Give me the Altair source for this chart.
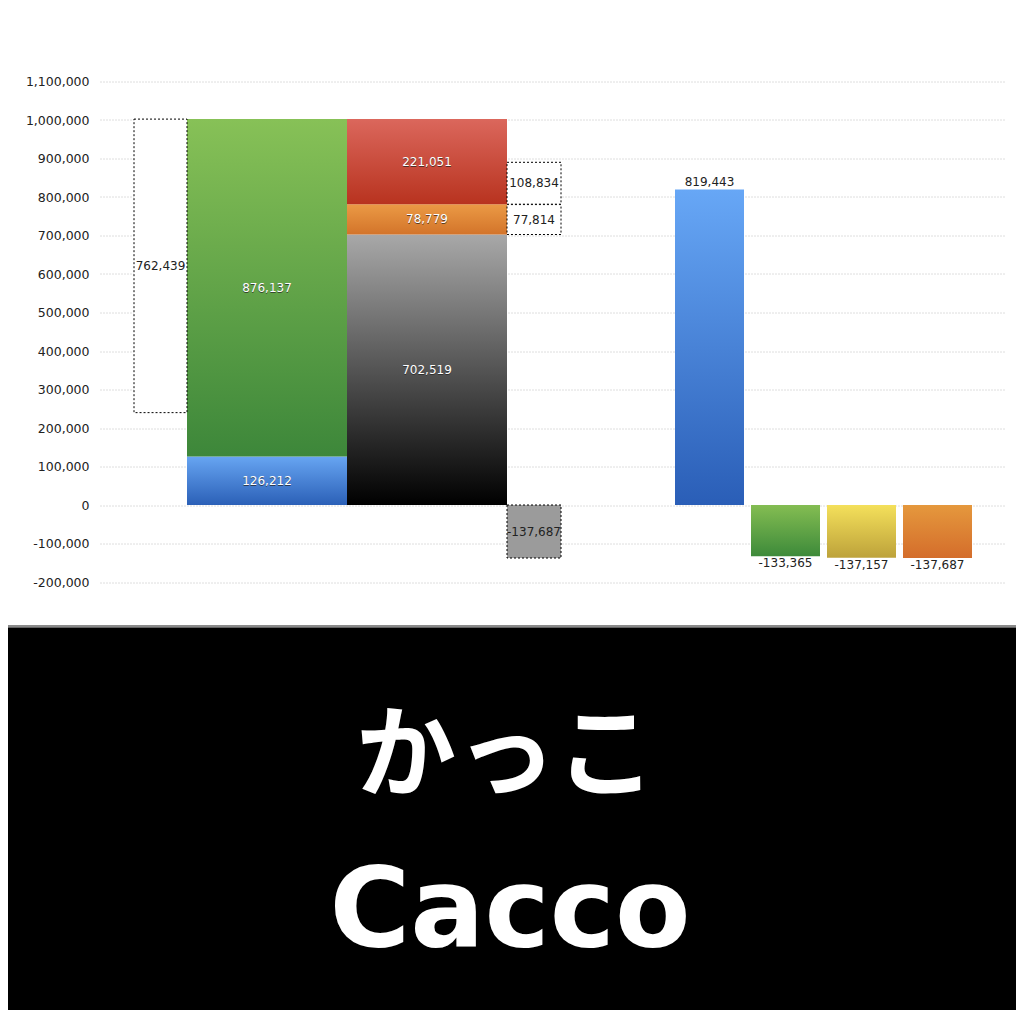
import altair as alt
import pandas as pd

# ---------------- data ----------------
blue_base = 126212          # bottom of column 1
green_part = 876137         # top of column 1
left_gap = 762439           # dashed box left of column 1
gray_part = 702519          # bottom of column 2
orange_part = 78779         # middle of column 2
red_part = 221051           # top of column 2
box_upper = 108834          # dashed box right of column 2 (upper)
box_lower = 77814           # dashed box right of column 2 (lower)
neg_box = -137687           # grey dashed box below zero
right_labels = ["total", "green", "yellow", "orange"]
right_values = [819443, -133365, -137157, -137687]
y_ticks = [-200000, -100000, 0, 100000, 200000, 300000, 400000, 500000,
           600000, 700000, 800000, 900000, 1000000, 1100000]

# ---------------- layout (plot units, 0..W) ----------------
W, H = 905, 500.5
PAD_L, PAD_T, PAD_R, PAD_B = 92, 73.5, 11, 428
spans = {
    "box1": (34, 87), "col1": (87, 247), "col2": (247, 407), "box2": (407, 461),
    "total": (575, 644), "green": (651, 720), "yellow": (727, 796), "orange": (803, 872),
}
LABEL_FONT = "DejaVu Sans"

def fmt(v):
    return f"{v:,}"

def grad(top, bottom):
    return alt.Gradient(
        gradient="linear",
        stops=[alt.GradientStop(offset=0, color=top), alt.GradientStop(offset=1, color=bottom)],
        x1=0, x2=0, y1=0, y2=1,
    )

xscale = alt.Scale(domain=[0, W], nice=False, zero=False)
yscale = alt.Scale(domain=[-200000, 1100000], nice=False, zero=False)
yaxis = alt.Axis(values=y_ticks, title=None, domain=False, ticks=False,
                 labelPadding=11, labelFontSize=12.5, labelColor="#222",
                 labelFont=LABEL_FONT,
                 labelExpr="replace(format(datum.value, ','), '\u2212', '-')",
                 grid=True, gridColor="#bdbdbd", gridDash=[1, 2], gridWidth=1)

def seg(col, y0, y1):
    a, b = spans[col]
    return pd.DataFrame([{"x0": a, "x1": b, "y0": y0, "y1": y1}])

def rect_layer(df, **mark):
    return alt.Chart(df).mark_rect(**mark).encode(
        x=alt.X("x0:Q", scale=xscale, axis=None),
        x2="x1:Q",
        y=alt.Y("y0:Q", scale=yscale, axis=yaxis),
        y2="y1:Q",
    )

top1 = blue_base + green_part
orange_top = gray_part + orange_part

layers = []
# solid columns
layers.append(rect_layer(seg("col1", 0, blue_base), fill=grad("#67a5f2", "#2b60b7")))
layers.append(rect_layer(seg("col1", blue_base, top1), fill=grad("#87c157", "#3d873a")))
layers.append(rect_layer(seg("col2", 0, gray_part), fill=grad("#a8a8a8", "#000000")))
layers.append(rect_layer(seg("col2", gray_part, orange_top), fill=grad("#eb9a45", "#d3742a")))
layers.append(rect_layer(seg("col2", orange_top, orange_top + red_part), fill=grad("#db675c", "#b8331f")))

right_fills = [("#67a7f6", "#2a5eb7"), ("#84bd52", "#3d8a3a"),
               ("#f4e05b", "#bda23a"), ("#e5983d", "#d46d2b")]
for name, v, (t, b) in zip(right_labels, right_values, right_fills):
    layers.append(rect_layer(seg(name, 0, v), fill=grad(t, b)))

# dashed boxes
dash = dict(stroke="#000", strokeDash=[2, 2], strokeWidth=1)
layers.append(rect_layer(seg("box1", top1 - left_gap, top1), fill="white", **dash))
layers.append(rect_layer(seg("box2", gray_part, gray_part + box_lower), fill="white", **dash))
layers.append(rect_layer(seg("box2", orange_top, orange_top + box_upper), fill="white", **dash))
layers.append(rect_layer(seg("box2", neg_box, 0), fill="#9b9b9b", **dash))

# labels
def lab(col, y, v):
    a, b = spans[col]
    return {"x": (a + b) / 2, "y": y, "t": fmt(v)}

inner = pd.DataFrame([
    lab("col1", blue_base / 2, blue_base),
    lab("col1", blue_base + green_part / 2, green_part),
    lab("col2", gray_part / 2, gray_part),
    lab("col2", gray_part + orange_part / 2, orange_part),
    lab("col2", orange_top + red_part / 2, red_part),
])
outer = pd.DataFrame([
    lab("box1", top1 - left_gap / 2, left_gap),
    lab("box2", gray_part + box_lower / 2, box_lower),
    lab("box2", orange_top + box_upper / 2, box_upper),
    lab("box2", neg_box / 2, neg_box),
])
above = pd.DataFrame([lab(n, v, v) for n, v in zip(right_labels, right_values) if v > 0])
below = pd.DataFrame([lab(n, v, v) for n, v in zip(right_labels, right_values) if v < 0])

def text_layer(df, **mark):
    base = dict(font=LABEL_FONT, fontSize=12)
    base.update(mark)
    return alt.Chart(df).mark_text(**base).encode(
        x=alt.X("x:Q", scale=xscale, axis=None),
        y=alt.Y("y:Q", scale=yscale, axis=yaxis),
        text="t:N",
    )

layers.append(text_layer(inner, color="#222", opacity=0.7, dy=1, baseline="middle"))
layers.append(text_layer(inner, color="#ffffff", baseline="middle"))
layers.append(text_layer(outer, color="#222", baseline="middle"))
layers.append(text_layer(above, color="#222", baseline="bottom", dy=-1))
layers.append(text_layer(below, color="#222", baseline="top", dy=2))

# black caption band
one = pd.DataFrame({"k": [0]})
layers.append(alt.Chart(one).mark_rect(fill="#8a8a8a").encode(
    x=alt.value(-PAD_L), x2=alt.value(W + PAD_R), y=alt.value(543.5), y2=alt.value(546)))
layers.append(alt.Chart(one).mark_rect(fill="#000000").encode(
    x=alt.value(-PAD_L), x2=alt.value(W + PAD_R), y=alt.value(546), y2=alt.value(H + PAD_B)))
layers.append(alt.Chart(one).mark_text(
    text="かっこ", font="Noto Sans CJK JP", fontWeight="bold", fontSize=100,
    color="white", align="center", baseline="middle").encode(
    x=alt.value(406), y=alt.value(677)))
layers.append(alt.Chart(one).mark_text(
    text="Cacco", font="DejaVu Sans", fontWeight="bold", fontSize=110,
    color="white", align="center", baseline="alphabetic").encode(
    x=alt.value(410), y=alt.value(864)))

chart = alt.layer(*layers).properties(
    width=W, height=H,
    autosize=alt.AutoSizeParams(type="none"),
    padding={"left": PAD_L, "top": PAD_T, "right": PAD_R, "bottom": PAD_B},
    background="white",
).configure_view(stroke=None)

chart.save("out.html", embed_options={"renderer": "svg", "actions": False})
